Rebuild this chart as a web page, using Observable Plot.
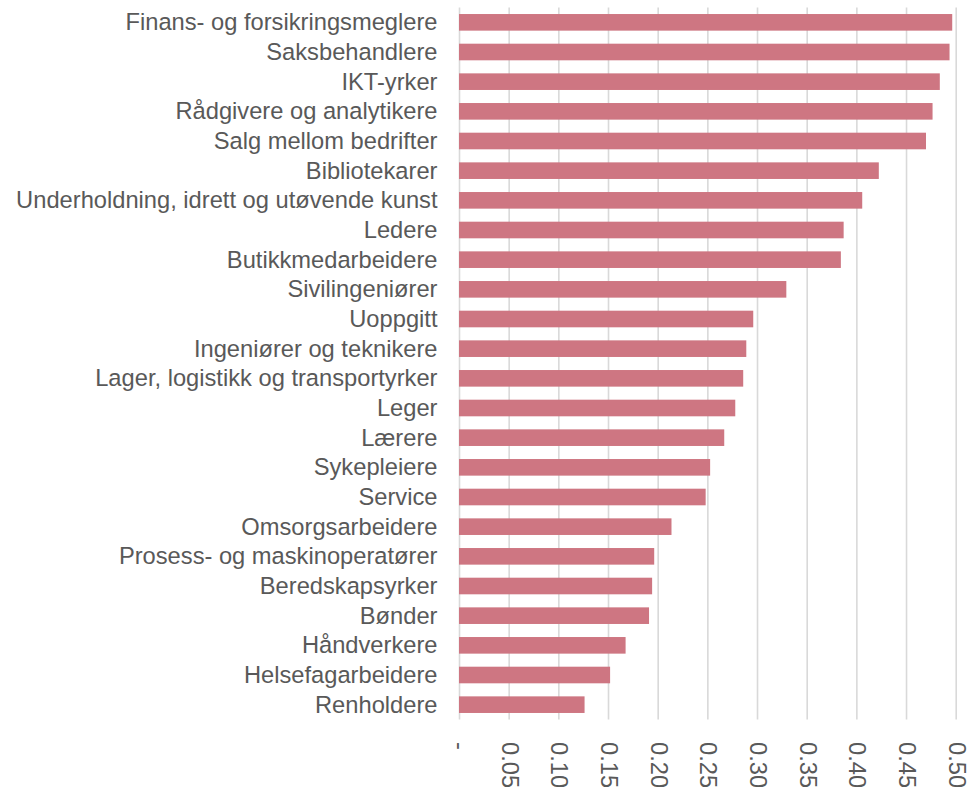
<!DOCTYPE html>
<html>
<head>
<meta charset="utf-8">
<script src="https://cdn.jsdelivr.net/npm/d3@7"></script>
<script src="https://cdn.jsdelivr.net/npm/@observablehq/plot@0.6"></script>
<style>
  html, body { margin: 0; padding: 0; background: #ffffff; }
  #chart { width: 980px; height: 787px; overflow: hidden; }
</style>
</head>
<body>
<div id="chart"></div>
<script>
const categories = [
  "Finans- og forsikringsmeglere",
  "Saksbehandlere",
  "IKT-yrker",
  "Rådgivere og analytikere",
  "Salg mellom bedrifter",
  "Bibliotekarer",
  "Underholdning, idrett og utøvende kunst",
  "Ledere",
  "Butikkmedarbeidere",
  "Sivilingeniører",
  "Uoppgitt",
  "Ingeniører og teknikere",
  "Lager, logistikk og transportyrker",
  "Leger",
  "Lærere",
  "Sykepleiere",
  "Service",
  "Omsorgsarbeidere",
  "Prosess- og maskinoperatører",
  "Beredskapsyrker",
  "Bønder",
  "Håndverkere",
  "Helsefagarbeidere",
  "Renholdere"
];
const values = [
  0.4965, 0.4938, 0.4840, 0.4767, 0.4701, 0.4226, 0.4059, 0.3872,
  0.3844, 0.3295, 0.2962, 0.2892, 0.2861, 0.2781, 0.2670, 0.2528,
  0.2483, 0.2139, 0.1965, 0.1944, 0.1913, 0.1677, 0.1521, 0.1264
];
const xTicks = [0, 0.05, 0.10, 0.15, 0.20, 0.25, 0.30, 0.35, 0.40, 0.45, 0.50];

const data = categories.map((c, i) => ({category: c, value: values[i]}));

const chart = Plot.plot({
  width: 980,
  height: 787,
  marginLeft: 459,
  marginRight: 24.3,
  marginTop: 7.5,
  marginBottom: 67.5,
  style: {
    fontFamily: "'Liberation Sans', Arial, sans-serif",
    fontSize: "23.7px",
    color: "#595959",
    background: "#ffffff"
  },
  x: {domain: [0, 0.5], ticks: xTicks},
  y: {domain: categories, paddingInner: 0.44, paddingOuter: 0.22, align: 0.5, round: false},
  marks: [
    Plot.gridX(xTicks, {stroke: "#d9d9d9", strokeOpacity: 1, strokeWidth: 1.6}),
    Plot.barX(data, {x: "value", y: "category", fill: "#ce7682"}),
    Plot.axisX(xTicks, {
      tickSize: 0,
      tickPadding: 22,
      tickRotate: 90,
      tickFormat: d => d === 0 ? "-" : d.toFixed(2),
      label: null,
      fill: "#595959"
    }),
    Plot.axisY({
      tickSize: 0,
      tickPadding: 22,
      label: null,
      fill: "#595959"
    })
  ]
});
document.getElementById("chart").appendChild(chart);
</script>
</body>
</html>
